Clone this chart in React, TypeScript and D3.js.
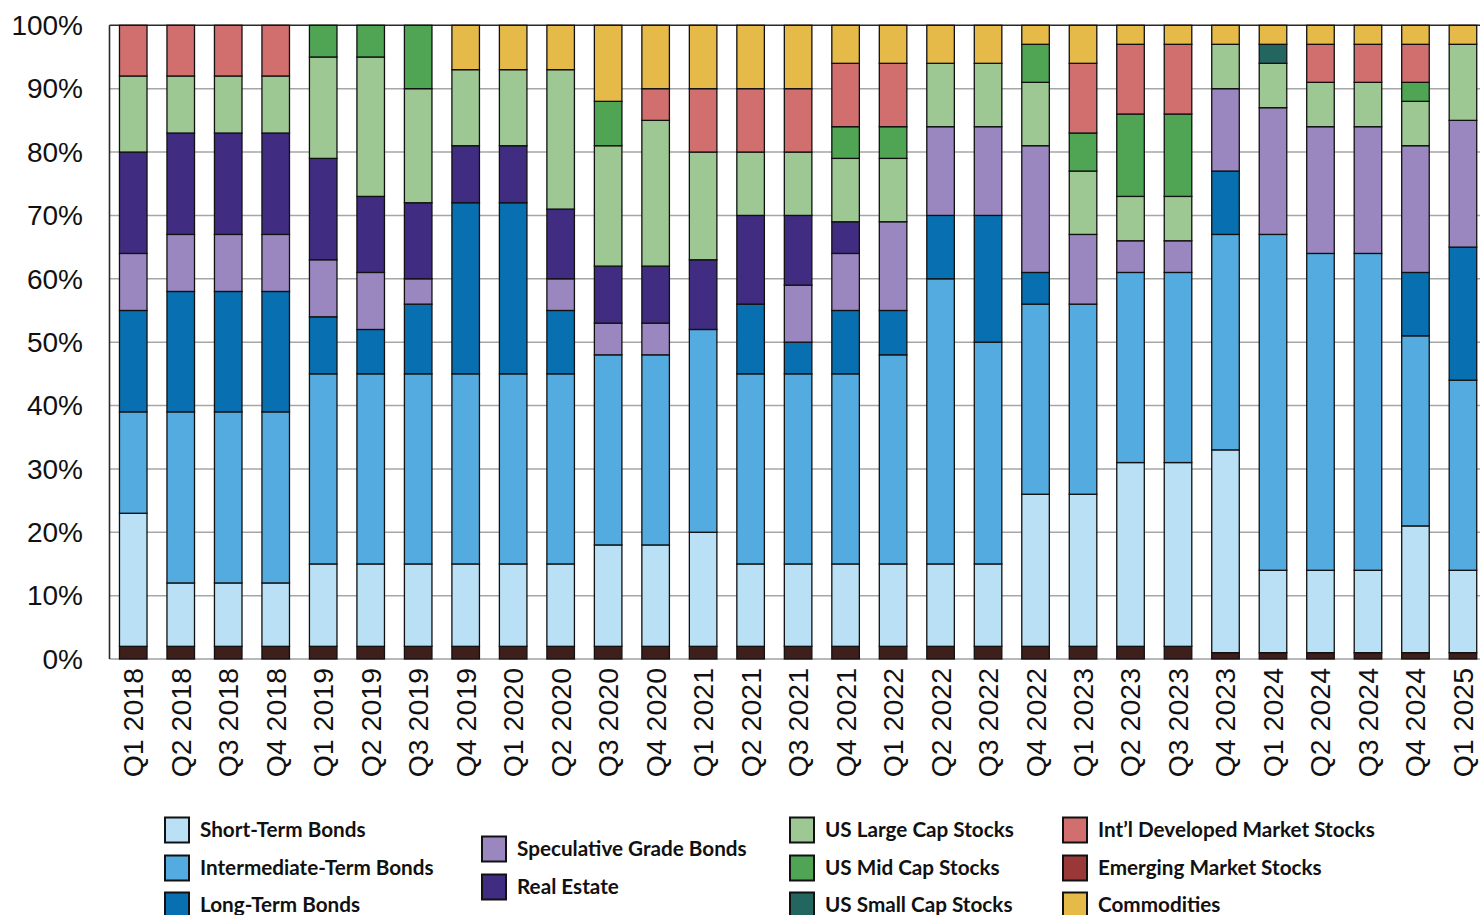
import React from "react";
import * as d3 from "d3";

const quarters = [
  "Q1 2018","Q2 2018","Q3 2018","Q4 2018",
  "Q1 2019","Q2 2019","Q3 2019","Q4 2019",
  "Q1 2020","Q2 2020","Q3 2020","Q4 2020",
  "Q1 2021","Q2 2021","Q3 2021","Q4 2021",
  "Q1 2022","Q2 2022","Q3 2022","Q4 2022",
  "Q1 2023","Q2 2023","Q3 2023","Q4 2023",
  "Q1 2024","Q2 2024","Q3 2024","Q4 2024",
  "Q1 2025",
];

const cash = [2,2,2,2,2,2,2,2,2,2,2,2,2,2,2,2,2,2,2,2,2,2,2,1,1,1,1,1,1];
const shortTerm = [21,10,10,10,13,13,13,13,13,13,16,16,18,13,13,13,13,13,13,24,24,29,29,32,13,13,13,20,13];
const intermediate = [16,27,27,27,30,30,30,30,30,30,30,30,32,30,30,30,33,45,35,30,30,30,30,34,53,50,50,30,30];
const longTerm = [16,19,19,19,9,7,11,27,27,10,0,0,0,11,5,10,7,10,20,5,0,0,0,10,0,0,0,10,21];
const speculative = [9,9,9,9,9,9,4,0,0,5,5,5,0,0,9,9,14,14,14,20,11,5,5,13,20,20,20,20,20];
const realEstate = [16,16,16,16,16,12,12,9,9,11,9,9,11,14,11,5,0,0,0,0,0,0,0,0,0,0,0,0,0];
const largeCap = [12,9,9,9,16,22,18,12,12,22,19,23,17,10,10,10,10,10,10,10,10,7,7,7,7,7,7,7,12];
const midCap = [0,0,0,0,5,5,10,0,0,0,7,0,0,0,0,5,5,0,0,6,6,13,13,0,0,0,0,3,0];
const smallCap = [0,0,0,0,0,0,0,0,0,0,0,0,0,0,0,0,0,0,0,0,0,0,0,0,3,0,0,0,0];
const intlDev = [8,8,8,8,0,0,0,0,0,0,0,5,10,10,10,10,10,0,0,0,11,11,11,0,0,6,6,6,0];
const emerging = [0,0,0,0,0,0,0,0,0,0,0,0,0,0,0,0,0,0,0,0,0,0,0,0,0,0,0,0,0];
const commodities = [0,0,0,0,0,0,0,7,7,7,12,10,10,10,10,6,6,6,6,3,6,3,3,3,3,3,3,3,3];

const yTicks = [0,10,20,30,40,50,60,70,80,90,100];

const seriesDefs = [
  { key: "Cash", values: cash, color: "#3e1f1b", legend: false },
  { key: "Short-Term Bonds", values: shortTerm, color: "#b9e0f5", legend: true },
  { key: "Intermediate-Term Bonds", values: intermediate, color: "#54abdf", legend: true },
  { key: "Long-Term Bonds", values: longTerm, color: "#0870b0", legend: true },
  { key: "Speculative Grade Bonds", values: speculative, color: "#9b87c0", legend: true },
  { key: "Real Estate", values: realEstate, color: "#402c80", legend: true },
  { key: "US Large Cap Stocks", values: largeCap, color: "#9dc893", legend: true },
  { key: "US Mid Cap Stocks", values: midCap, color: "#50a555", legend: true },
  { key: "US Small Cap Stocks", values: smallCap, color: "#236660", legend: true },
  { key: "Int\u2019l Developed Market Stocks", values: intlDev, color: "#d06f6e", legend: true },
  { key: "Emerging Market Stocks", values: emerging, color: "#9a3737", legend: true },
  { key: "Commodities", values: commodities, color: "#e6ba48", legend: true },
];

const legendLayout = [
  { key: "Short-Term Bonds", x: 165, y: 830 },
  { key: "Intermediate-Term Bonds", x: 165, y: 868 },
  { key: "Long-Term Bonds", x: 165, y: 905 },
  { key: "Speculative Grade Bonds", x: 482, y: 849 },
  { key: "Real Estate", x: 482, y: 887 },
  { key: "US Large Cap Stocks", x: 790, y: 830 },
  { key: "US Mid Cap Stocks", x: 790, y: 868 },
  { key: "US Small Cap Stocks", x: 790, y: 905 },
  { key: "Int\u2019l Developed Market Stocks", x: 1063, y: 830 },
  { key: "Emerging Market Stocks", x: 1063, y: 868 },
  { key: "Commodities", x: 1063, y: 905 },
];

export default function App() {
  const W = 1480, H = 915;
  const left = 109.5, right = 1486.7, top = 25.3, bottom = 659;

  const rows = quarters.map((q, i) => {
    const r: any = { q };
    seriesDefs.forEach((s) => (r[s.key] = s.values[i]));
    return r;
  });
  const keys = seriesDefs.map((s) => s.key);
  const stacked = d3.stack().keys(keys)(rows);

  const x = d3.scaleBand().domain(quarters).range([left, right]).paddingInner(0.42).paddingOuter(0.21);
  const y = d3.scaleLinear().domain([0, 100]).range([bottom, top]);
  const color = new Map(seriesDefs.map((s) => [s.key, s.color]));

  return (
    <svg width={W} height={H} style={{ position: "absolute", left: 0, top: 0, background: "#fff" }}>
      {/* gridlines */}
      {yTicks.filter((t) => t > 0 && t < 100).map((t) => (
        <line key={t} x1={left} x2={W} y1={y(t)} y2={y(t)} stroke="#a6a6a6" strokeWidth={1.5} />
      ))}
      <line x1={left} x2={W} y1={y(0)} y2={y(0)} stroke="#a0a0a0" strokeWidth={1.6} />
      <line x1={left} x2={W} y1={y(100)} y2={y(100)} stroke="#2a2a2a" strokeWidth={1.6} />
      <line x1={left} x2={left} y1={y(100)} y2={y(0)} stroke="#2a2a2a" strokeWidth={1.6} />

      {/* bars */}
      {stacked.map((layer) => (
        <g key={layer.key}>
          {layer.map((d, i) =>
            d[1] - d[0] > 0 ? (
              <rect
                key={i}
                x={x(quarters[i])}
                width={x.bandwidth()}
                y={y(d[1])}
                height={y(d[0]) - y(d[1])}
                fill={color.get(layer.key)}
                stroke="#111"
                strokeWidth={1.3}
              />
            ) : null
          )}
        </g>
      ))}

      {/* y tick labels */}
      {yTicks.map((t) => (
        <text
          key={t}
          x={83}
          y={y(t)}
          dy="0.35em"
          textAnchor="end"
          fontFamily="'Liberation Sans', Arial, sans-serif"
          fontSize={28}
          fill="#111"
        >
          {t}%
        </text>
      ))}

      {/* x tick labels */}
      {quarters.map((q) => {
        const cx = (x(q) as number) + x.bandwidth() / 2;
        const ty = 668;
        return (
          <text
            key={q}
            x={cx}
            y={ty}
            dy="0.35em"
            textAnchor="end"
            transform={`rotate(-90, ${cx}, ${ty})`}
            fontFamily="'Liberation Sans', Arial, sans-serif"
            fontSize={28.5}
            fill="#111"
          >
            {q}
          </text>
        );
      })}

      {/* legend */}
      {legendLayout.map((l) => (
        <g key={l.key}>
          <rect x={l.x} y={l.y - 12.5} width={24} height={25} fill={color.get(l.key)} stroke="#111" strokeWidth={2} />
          <text
            x={l.x + 35}
            y={l.y}
            dy="0.35em"
            fontFamily="Lato, 'Open Sans', sans-serif"
            fontWeight={700}
            fontSize={20.7}
            fill="#111"
          >
            {l.key}
          </text>
        </g>
      ))}
    </svg>
  );
}
